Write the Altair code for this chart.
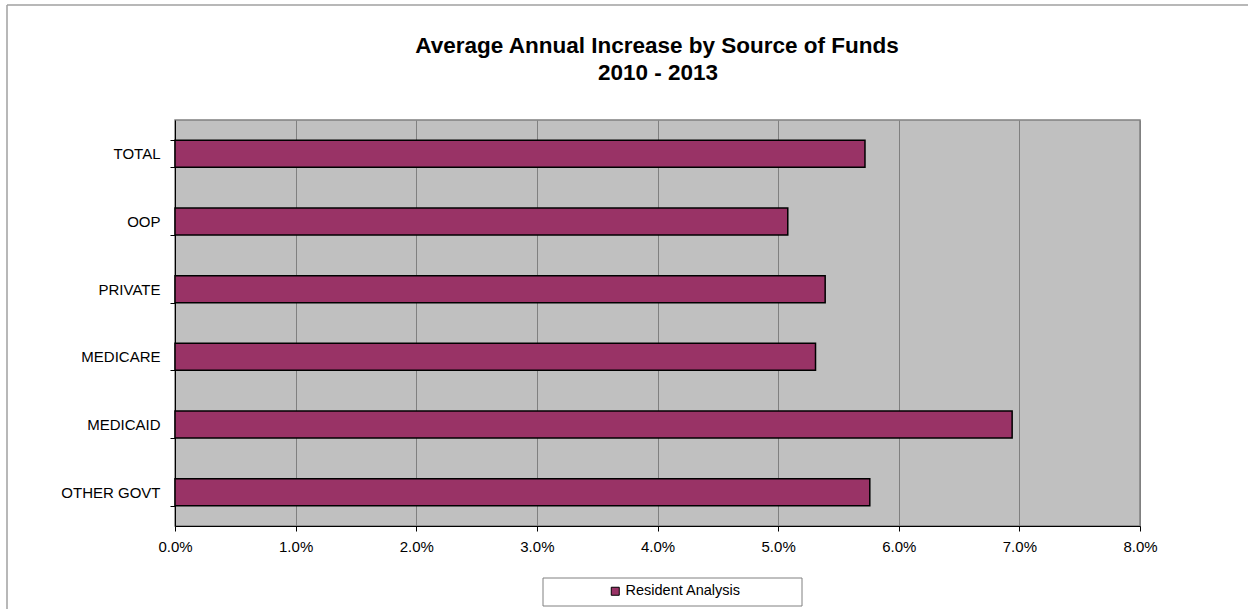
import altair as alt
import pandas as pd

categories = ["TOTAL", "OOP", "PRIVATE", "MEDICARE", "MEDICAID", "OTHER GOVT"]
values = [0.0572, 0.0508, 0.0539, 0.0531, 0.0694, 0.0576]
series_name = "Resident Analysis"
x_ticks = [0.0, 0.01, 0.02, 0.03, 0.04, 0.05, 0.06, 0.07, 0.08]
title_lines = ["Average Annual Increase by Source of Funds", "2010 - 2013"]

FONT = "Liberation Sans"

df = pd.DataFrame({"category": categories, "value": values, "series": [series_name] * len(categories)})

bars = alt.Chart(df).mark_bar(stroke="#000000", strokeWidth=1.5).encode(
    y=alt.Y("category:N", sort=categories,
            scale=alt.Scale(paddingInner=0.6, paddingOuter=0.3),
            axis=alt.Axis(title=None, tickBand="extent", labelFontSize=15, labelFont=FONT,
                          labelColor="#000000", domainColor="#000000", tickColor="#000000",
                          tickSize=5, labelPadding=10, grid=False)),
    x=alt.X("value:Q", scale=alt.Scale(domain=[0, 0.08], nice=False),
            axis=alt.Axis(title=None, values=x_ticks, format=".1%", labelFontSize=15, labelFont=FONT,
                          labelColor="#000000", domainColor="#000000", tickColor="#000000",
                          tickSize=5, labelPadding=8, labelFlush=False, grid=True,
                          gridColor="#808080", gridWidth=1)),
    color=alt.Color("series:N", scale=alt.Scale(range=["#993366"]),
                    legend=alt.Legend(title=None, orient="none", legendX=433, legendY=464,
                                      symbolType="square", symbolSize=64,
                                      symbolStrokeColor="#000000", symbolStrokeWidth=1,
                                      labelFontSize=14.5, labelFont=FONT, labelColor="#000000",
                                      labelOffset=3, padding=0)),
)

one = alt.Data(values=[{"k": 1}])
legend_box = alt.Chart(one).mark_rect(fill="#FFFFFF", stroke="#808080", strokeWidth=1).encode(
    x=alt.value(368), x2=alt.value(627), y=alt.value(458), y2=alt.value(486)
)
top_border = alt.Chart(one).mark_rule(color="#A0A0A0", strokeWidth=1.5).encode(
    x=alt.value(-168), x2=alt.value(1100), y=alt.value(-115)
)
left_border = alt.Chart(one).mark_rule(color="#A0A0A0", strokeWidth=1.5).encode(
    x=alt.value(-168), y=alt.value(-115), y2=alt.value(600)
)
title1 = alt.Chart(one).mark_text(text=title_lines[0], font=FONT, fontSize=22.5, fontWeight="bold",
                                  color="#000000", align="center", baseline="alphabetic").encode(
    x=alt.value(482), y=alt.value(-67)
)
title2 = alt.Chart(one).mark_text(text=title_lines[1], font=FONT, fontSize=22.5, fontWeight="bold",
                                  color="#000000", align="center", baseline="alphabetic").encode(
    x=alt.value(483), y=alt.value(-40)
)

chart = alt.layer(top_border, left_border, legend_box, title1, title2, bars).properties(
    width=965, height=406,
    autosize=alt.AutoSizeParams(type="none"),
    padding={"left": 175, "top": 120, "right": 108, "bottom": 83},
    background="#FFFFFF",
).configure_view(fill="#C0C0C0", stroke="#808080", strokeWidth=1.5)

chart.save("out.html", embed_options={"renderer": "svg", "actions": False})
